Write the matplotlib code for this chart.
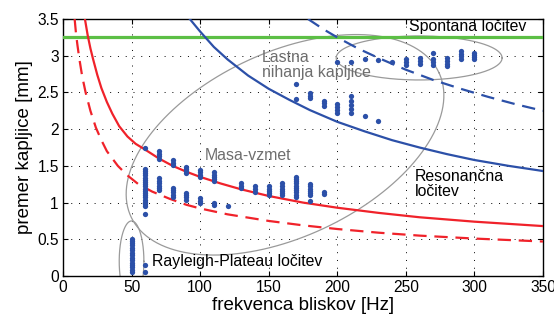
import numpy as np
import matplotlib.pyplot as plt
from matplotlib.ticker import FuncFormatter

plt.rcParams['font.family'] = ['Liberation Sans', 'DejaVu Sans']

# measured droplet diameters [mm] for each flash frequency [Hz]
meas_f = ([50] * 15 + [60] * 2
          + [60] * 20 + [70] * 10 + [80] * 8 + [90] * 8 + [100] * 7 + [110] * 7 + [120]
          + [130] * 3 + [140] * 3 + [150] * 5 + [160] * 6 + [170] * 10 + [180] * 7 + [190] * 2
          + [170] * 2 + [180] * 3 + [190] * 3 + [200] * 5 + [210] * 6 + [220] * 2 + [230] * 2
          + [240] + [250] * 3 + [260] * 3 + [270] * 4 + [280] * 4 + [290] * 4 + [300] * 4)
meas_d = ([0.05, 0.08, 0.12, 0.15, 0.18, 0.22, 0.25, 0.28, 0.32, 0.35, 0.38, 0.42, 0.45, 0.48, 0.51]
          + [0.06, 0.15]
          + [1.74, 0.85, 0.95, 0.98, 1.01, 1.04, 1.07, 1.10, 1.13, 1.16, 1.19, 1.22, 1.25, 1.28,
             1.31, 1.34, 1.37, 1.40, 1.43, 1.46]
          + [1.60, 1.63, 1.66, 1.70, 1.17, 1.20, 1.23, 1.26, 1.30, 1.33]
          + [1.51, 1.54, 1.58, 1.08, 1.11, 1.14, 1.17, 1.20]
          + [1.40, 1.43, 1.46, 1.49, 1.04, 1.07, 1.10, 1.13]
          + [1.35, 1.38, 1.42, 1.45, 0.99, 1.02, 1.06]
          + [1.29, 1.32, 1.35, 1.38, 1.42, 0.97, 1.00]
          + [0.95]
          + [1.20, 1.23, 1.26]
          + [1.15, 1.18, 1.22]
          + [1.10, 1.13, 1.16, 1.19, 1.22]
          + [1.10, 1.13, 1.16, 1.19, 1.22, 1.26]
          + [1.08, 1.11, 1.14, 1.17, 1.20, 1.23, 1.26, 1.29, 1.32, 1.35]
          + [1.02, 1.10, 1.13, 1.16, 1.19, 1.22, 1.25]
          + [1.12, 1.15]
          + [2.41, 2.62]
          + [2.42, 2.45, 2.49]
          + [2.32, 2.35, 2.39]
          + [2.22, 2.26, 2.30, 2.34, 2.92]
          + [2.22, 2.28, 2.33, 2.39, 2.45, 2.91]
          + [2.18, 2.95]
          + [2.11, 2.94]
          + [2.91]
          + [2.87, 2.91, 2.95]
          + [2.89, 2.93, 2.97]
          + [2.88, 2.92, 2.96, 3.04]
          + [2.86, 2.89, 2.93, 2.97]
          + [2.96, 2.99, 3.03, 3.06]
          + [2.95, 2.98, 3.01, 3.04])

# mass-spring boundary (red)
red_f = [16, 18, 20, 22, 25, 28, 32, 36, 41, 47, 53, 60, 70, 80, 90, 100, 115, 130, 150, 175,
         200, 230, 260, 300, 350]
red_d = [3.50, 3.28, 3.10, 2.95, 2.74, 2.56, 2.37, 2.21, 2.04, 1.90, 1.80, 1.72, 1.60, 1.50,
         1.42, 1.35, 1.26, 1.18, 1.09, 1.00, 0.93, 0.86, 0.80, 0.74, 0.68]
red2_f = [8.5, 9.5, 10.5, 12, 14, 16.5, 20, 24, 28, 32, 40, 47, 55, 65, 78, 90, 100, 120, 150,
          175, 200, 230, 260, 300, 350]
red2_d = [3.50, 3.30, 3.15, 2.95, 2.72, 2.50, 2.25, 2.02, 1.85, 1.70, 1.50, 1.37, 1.25, 1.15,
          1.05, 0.97, 0.92, 0.84, 0.75, 0.69, 0.64, 0.59, 0.55, 0.51, 0.47]

# resonance boundary (blue)
blue_f = [92.5, 100, 110, 120, 135, 150, 165, 180, 200, 220, 240, 260, 280, 300, 325, 350]
blue_d = [3.50, 3.33, 3.12, 2.95, 2.73, 2.55, 2.40, 2.26, 2.10, 1.97, 1.85, 1.75, 1.66, 1.58,
          1.50, 1.43]
blue2_f = [178.7, 190, 200, 215, 230, 250, 270, 290, 310, 330, 350]
blue2_d = [3.50, 3.36, 3.25, 3.10, 2.97, 2.81, 2.67, 2.55, 2.44, 2.34, 2.25]

spont_d = 3.25

red = '#f0222a'
blue = '#2c50a8'
green = '#5cbf45'
gray = '#9a9a9a'

fig = plt.figure(figsize=(5.54, 3.2), dpi=100)
ax = fig.add_axes([0.1137, 0.1375, 0.8664, 0.803])

ax.grid(True, color='k', linestyle=(0, (1, 7)), linewidth=0.7)
ax.set_axisbelow(True)

ax.axhline(spont_d, color=green, lw=2.3, zorder=3)
ax.plot(red_f, red_d, color=red, lw=1.6, zorder=3)
ax.plot(red2_f, red2_d, color=red, lw=1.6, dashes=(6, 3.5), zorder=3)
ax.plot(blue_f, blue_d, color=blue, lw=1.6, zorder=3)
ax.plot(blue2_f, blue2_d, color=blue, lw=1.6, dashes=(6, 3.5), zorder=3)

# gray grouping ellipses
t = np.linspace(0, 2 * np.pi, 300)
ax.plot(161.9 + 112.3 * np.cos(t) - 28.4 * np.sin(t),
        1.787 + 0.981 * np.cos(t) + 1.137 * np.sin(t), color=gray, lw=0.9, zorder=2)
ax.plot(50 + 9 * np.cos(t), 0.2 + 0.55 * np.sin(t), color=gray, lw=0.9, zorder=2)
ax.plot(259.7 + 60.5 * np.cos(t), 2.97 + 0.30 * np.sin(t), color=gray, lw=0.9, zorder=2)

ax.plot(meas_f, meas_d, 'o', color=blue, ms=3.8, mew=0, zorder=4)

fs = 11.4
ax.text(252.6, 3.40, 'Spontana ločitev', fontsize=fs, va='center', ha='left')
ax.text(145, 2.87, 'Lastna\nnihanja kapljice', fontsize=fs, va='center', ha='left',
        color='#6e6e6e', linespacing=1.0)
ax.text(103.6, 1.64, 'Masa-vzmet', fontsize=fs, va='center', ha='left', color='#6e6e6e')
ax.text(256.7, 1.255, 'Resonančna\nločitev', fontsize=fs, va='center', ha='left',
        linespacing=1.05)
ax.text(64.7, 0.195, 'Rayleigh-Plateau ločitev', fontsize=fs, va='center', ha='left')

ax.set_xlim(0, 350)
ax.set_ylim(0, 3.5)
ax.set_xticks(np.arange(0, 351, 50))
ax.set_yticks(np.arange(0, 3.51, 0.5))
ax.yaxis.set_major_formatter(FuncFormatter(lambda v, p: '%g' % v))
ax.tick_params(direction='in', top=True, right=True, length=3.5, labelsize=11.2, pad=3)
for s in ax.spines.values():
    s.set_linewidth(1.0)

ax.set_xlabel('frekvenca bliskov [Hz]', fontsize=13.5, labelpad=1)
ax.set_ylabel('premer kapljice [mm]', fontsize=13.5, labelpad=3)

fig.savefig('out.png', dpi=100)
